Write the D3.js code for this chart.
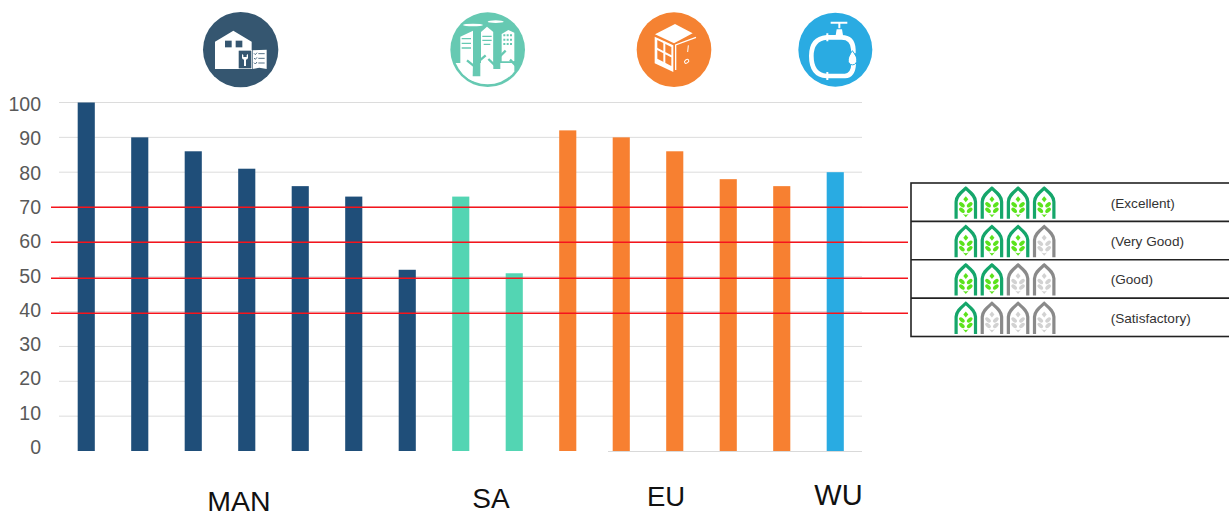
<!DOCTYPE html>
<html><head><meta charset="utf-8">
<script src="https://cdn.jsdelivr.net/npm/d3@7"></script>
<style>html,body{margin:0;padding:0;background:#fff;overflow:hidden}svg{display:block}text{font-family:"Liberation Sans",Arial,sans-serif}</style>
</head><body><svg id="c" width="1229" height="516"></svg>
<script>
// ---- data ----
const barGroups = ["MAN","MAN","MAN","MAN","MAN","MAN","MAN","SA","SA","EU","EU","EU","EU","EU","WU"];
const barValues = [100,90,86,81,76,73,52,73,51,92,90,86,78,76,80];
const yTicks = [0,10,20,30,40,50,60,70,80,90,100];
const thresholds = [70,60,50,40];
const ratingLabels = ["(Excellent)","(Very Good)","(Good)","(Satisfactory)"];
const ratingLeaves = [4,3,2,1];
const groupColors = {MAN:"#1F4E79",SA:"#53D5B3",EU:"#F78031",WU:"#29ABE2"};
const groupLabels = [
  {t:"MAN",x:239,y:511,s:28.5},{t:"SA",x:491,y:508,s:28},
  {t:"EU",x:666,y:506,s:27.5},{t:"WU",x:838.5,y:505,s:29}
];

const svg = d3.select("#c");
const x = d3.scaleBand().domain(d3.range(barValues.length)).range([59.5,862]).paddingInner(0.68).paddingOuter(0.34);
const y = d3.scaleLinear().domain([0,100]).range([451,102.5]);
const yLabel = d3.scaleLinear().domain([0,100]).range([447,104]); // labels in the source drift from their gridlines
const yRed = d3.scaleLinear().domain([40,70]).range([313,207]).interpolate(d3.interpolateRound); // overlaid lines sit on their own spacing

// gridlines
svg.append("g").selectAll("line").data(yTicks.filter(d=>d>0)).join("line")
  .attr("x1",59).attr("x2",862).attr("y1",d=>y(d)).attr("y2",d=>y(d))
  .attr("stroke","#dcdcdc").attr("stroke-width",1);
svg.append("line").attr("x1",608).attr("x2",862).attr("y1",y(0)+.5).attr("y2",y(0)+.5).attr("stroke","#d9d9d9").attr("stroke-width",1);

// tick labels
svg.append("g").selectAll("text").data(yTicks).join("text")
  .attr("x",41).attr("y",d=>yLabel(d)).attr("dy","0.36em").attr("text-anchor","end")
  .attr("font-size",19.5).attr("fill","#595959").text(d=>d);

// bars
svg.append("g").selectAll("rect").data(barValues).join("rect")
  .attr("x",(d,i)=>x(i)).attr("width",x.bandwidth())
  .attr("y",d=>y(d)).attr("height",d=>y(0)-y(d))
  .attr("fill",(d,i)=>groupColors[barGroups[i]]);

// thresholds
svg.append("g").selectAll("line").data(thresholds).join("line")
  .attr("x1",51).attr("x2",908).attr("y1",d=>yRed(d)+.25).attr("y2",d=>yRed(d)+.25)
  .attr("stroke","#f5141c").attr("stroke-width",1.4);

// group labels
svg.append("g").selectAll("text").data(groupLabels).join("text")
  .attr("x",d=>d.x).attr("y",d=>d.y).attr("text-anchor","middle")
  .attr("font-size",d=>d.s).attr("fill","#111").text(d=>d.t);

// ---- icons ----
const defs = svg.append("defs");
defs.append("filter").attr("id","soft").append("feGaussianBlur").attr("stdDeviation",0.45);
defs.append("clipPath").attr("id","saClip").append("circle").attr("cx",128).attr("cy",125).attr("r",104);

function icon(tx,ty){return svg.append("g").attr("filter","url(#soft)").append("g").attr("transform",`translate(${tx},${ty}) scale(${1/3})`);}
const W="#fff";

// MAN (house, wrench, checklist)
{const c="#34566F", g=icon(180,0);
 g.append("circle").attr("cx",182).attr("cy",149).attr("r",113).attr("fill",c);
 g.append("path").attr("d","M105,125L160,92L215,125V150H175V207H105Z").attr("fill",W);
 g.append("rect").attr("x",135).attr("y",122).attr("width",20).attr("height",20).attr("fill",c);
 g.append("rect").attr("x",167).attr("y",122).attr("width",20).attr("height",20).attr("fill",c);
 g.append("rect").attr("x",175).attr("y",151).attr("width",40).attr("height",55).attr("fill",c).attr("stroke",W).attr("stroke-width",2);
 g.append("path").attr("d","M186,162V173Q186,178 192,179V198H198V179Q204,178 204,173V162L200,165V171H190V165Z").attr("fill",W);
 g.append("path").attr("d","M218,151L260,149V207L238,203L218,207Z").attr("fill",W);
 [160,174,188].forEach(v=>{g.append("path").attr("d",`M222,${v}l4,4l5,-6M235,${v+1}h19`).attr("stroke",c).attr("stroke-width",2.5).attr("fill","none");});
}
// SA (city and trees)
{const c="#66C9B2", g=svg.append("g").attr("filter","url(#soft)").append("g").attr("transform",`translate(445,8) scale(${1/3})`);
 g.append("circle").attr("cx",128).attr("cy",125).attr("r",112).attr("fill",c);
 const k=g.append("g").attr("clip-path","url(#saClip)");
 k.append("path").attr("d","M46,86L84,68V235H46Z").attr("fill",W);
 k.append("path").attr("d","M108,72L126,56L145,72V185H108Z").attr("fill",W);
 k.append("path").attr("d","M170,78L190,66L208,74V160H170Z").attr("fill",W);
 k.append("rect").attr("x",20).attr("y",165).attr("width",190).attr("height",80).attr("fill",W);
 k.append("path").attr("d","M208,158L240,172V260H208Z").attr("fill",c);
 g.append("ellipse").attr("cx",84).attr("cy",51).attr("rx",30).attr("ry",4).attr("fill",W);
 g.append("ellipse").attr("cx",152).attr("cy",41).attr("rx",24).attr("ry",4).attr("fill",W);
 g.append("path").attr("d","M87,60H106V205H83Z").attr("fill",c);
 g.append("path").attr("d","M146,50H166V183H145Z").attr("fill",c);
 g.append("path").attr("d","M92,178L66,157M101,160L122,142M150,172L130,153M160,150L182,128M212,172L195,155").attr("stroke",c).attr("stroke-width",7).attr("fill","none");
 g.append("path").attr("d","M50,92H78M50,106H78M50,120H78M112,85H140M112,97H140M116,109H136").attr("stroke",c).attr("stroke-width",4).attr("fill","none");
 g.append("path").attr("d","M175,82H204M175,95H204M175,108H204").attr("stroke",c).attr("stroke-width",6).attr("stroke-dasharray","6 4").attr("fill","none");
}
// EU (appliance and switch)
{const c="#F58230", g=icon(620,0);
 g.append("circle").attr("cx",162).attr("cy",149).attr("r",112).attr("fill",c);
 g.append("path").attr("d","M105,103L165,72L218,100L162,130Z").attr("fill",W);
 g.append("path").attr("d","M104,110L160,136V216L104,190Z").attr("fill",W);
 g.append("path").attr("d","M112,120L154,141V198L112,176Z").attr("fill",c);
 g.append("path").attr("d","M133,125V190M110,146L156,170").attr("stroke",W).attr("stroke-width",6).attr("fill","none");
 g.append("path").attr("d","M167,210V135L228,112").attr("stroke",W).attr("stroke-width",4).attr("fill","none");
 g.append("path").attr("d","M205,136L203,156").attr("stroke",W).attr("stroke-width",3);
 g.append("ellipse").attr("cx",200).attr("cy",184).attr("rx",7).attr("ry",5).attr("transform","rotate(-35 200 184)").attr("fill","none").attr("stroke",W).attr("stroke-width",3);
}
// WU (tap and pipe)
{const c="#29ABE2", g=icon(620,0);
 g.append("circle").attr("cx",646).attr("cy",149).attr("r",111).attr("fill",c);
 g.append("path").attr("d","M700,160V148Q698,112 665,112H620Q574,116 574,168Q574,225 620,228H675Q700,226 701,190")
  .attr("fill","none").attr("stroke",W).attr("stroke-width",14);
 g.append("path").attr("d","M632,68H682M658,68V85").attr("stroke",W).attr("stroke-width",6).attr("fill","none");
 g.append("path").attr("d","M646,112L650,88H666L670,112Z").attr("fill",W);
 g.append("path").attr("d","M622,100V124M622,216V240").attr("stroke",W).attr("stroke-width",6);
 g.append("path").attr("d","M697,152Q712,172 710,178A13,13 0 1 1 685,178Q684,172 697,152Z").attr("fill",W).attr("stroke",c).attr("stroke-width",3);
}

// ---- legend table ----
const rowY = d3.scaleBand().domain(d3.range(ratingLabels.length)).range([183,336.5]);
const leg = svg.append("g");
leg.append("rect").attr("x",911).attr("y",183).attr("width",330).attr("height",153.5).attr("fill","#fff").attr("stroke","#222").attr("stroke-width",1.6);
rowY.domain().slice(1).forEach(i=>leg.append("line").attr("x1",911).attr("x2",1229).attr("y1",rowY(i)).attr("y2",rowY(i)).attr("stroke","#222").attr("stroke-width",1.6));

function leaf(g,on){
  const arch=on?"#12A66B":"#8a8a8a", fill=on?"#5BE31C":"#d2d2d2";
  g.append("path").attr("d","M1.8,32V15C2,9 7,5.5 11.5,1.5C16,5.5 21,9 21.2,15V32").attr("fill","none").attr("stroke",arch).attr("stroke-width",3.2);
  g.append("path").attr("d","M11.5,9.5L14,12.5L11.5,15.5L9,12.5Z").attr("fill",fill);
  [[7.6,18,40],[15.4,18,-40],[7.6,23.5,40],[15.4,23.5,-40]].forEach(p=>
    g.append("ellipse").attr("cx",p[0]).attr("cy",p[1]).attr("rx",3.3).attr("ry",1.9)
     .attr("transform",`rotate(${p[2]} ${p[0]} ${p[1]})`).attr("fill",fill));
  g.append("path").attr("d","M8.5,27Q11.5,29 14.5,27L11.5,30.5Z").attr("fill",fill);
}
const iconX = d3.scalePoint().domain(d3.range(4)).range([954.3,1032.7]);
ratingLabels.forEach((lab,i)=>{
  const cy=rowY(i)+rowY.bandwidth()/2;
  d3.range(4).forEach(j=>leaf(leg.append("g").attr("filter","url(#soft)").attr("transform",`translate(${iconX(j)},${rowY(i)+3.8})`), j<ratingLeaves[i]));
  leg.append("text").attr("x",1110.7).attr("y",cy+.8).attr("dy","0.35em").attr("font-size",13.6).attr("fill","#333").text(lab);
});
</script></body></html>
